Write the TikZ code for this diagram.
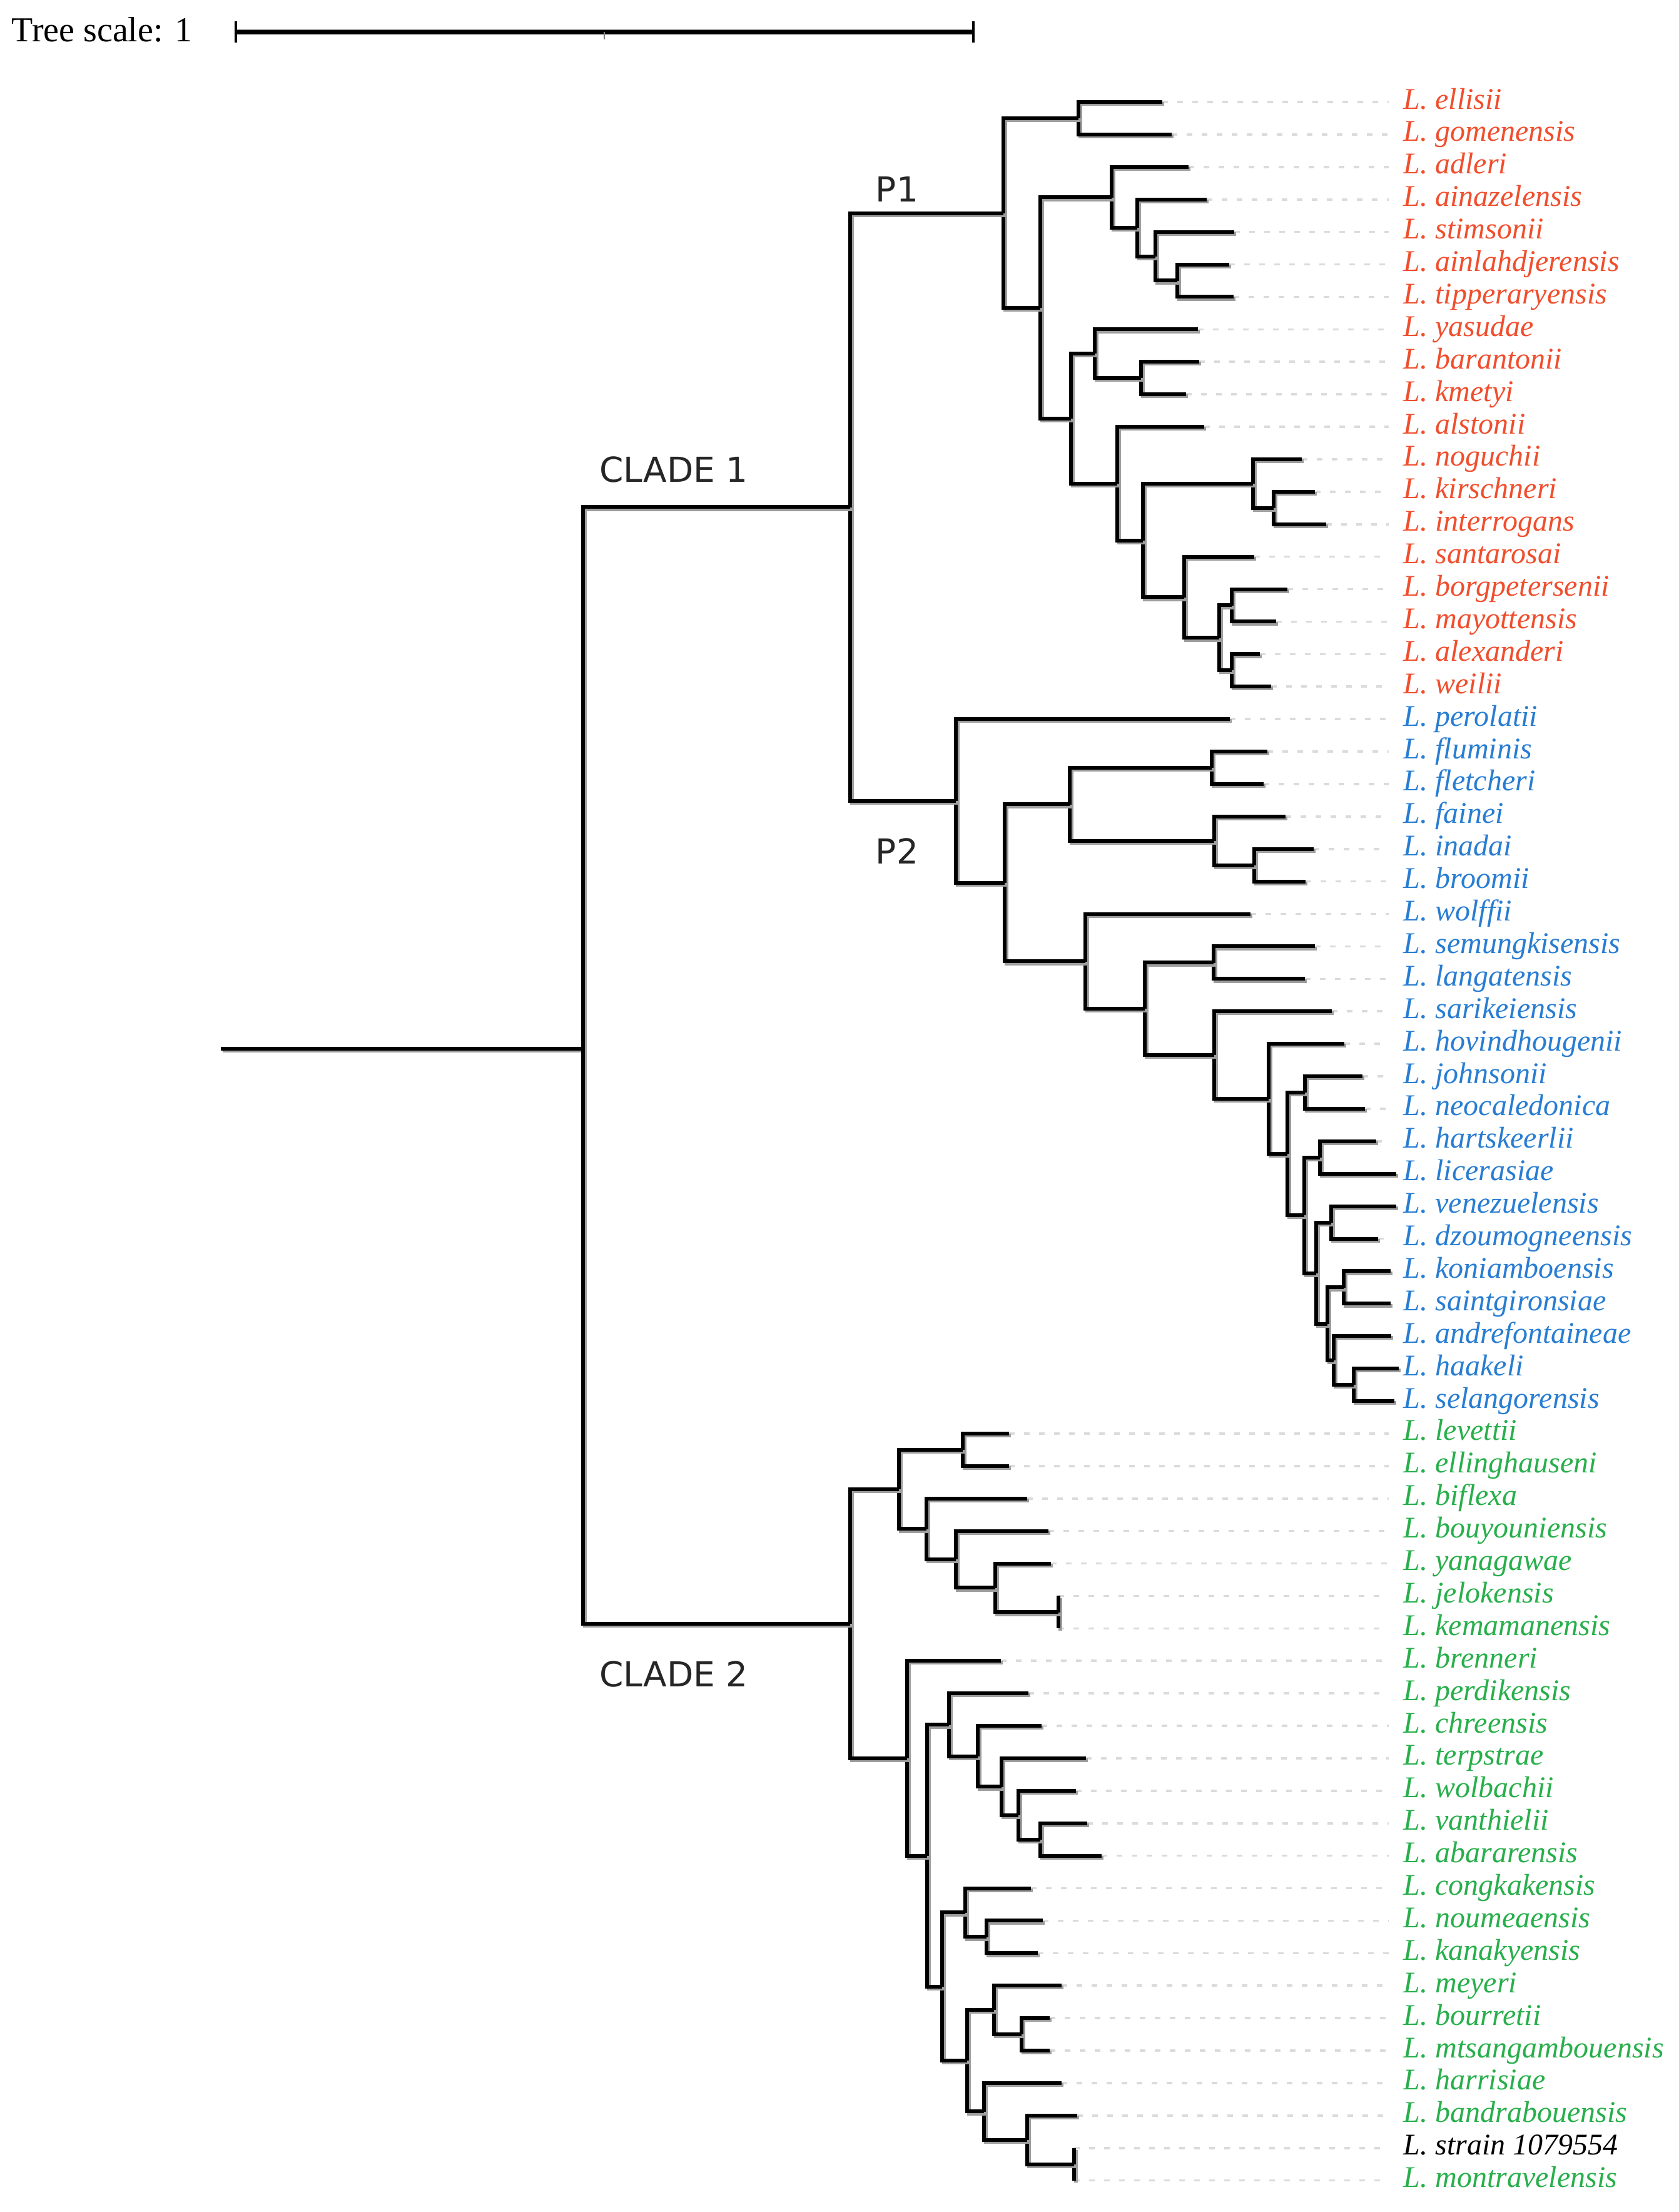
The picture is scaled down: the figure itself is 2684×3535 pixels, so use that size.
\documentclass[tikz,border=0pt]{standalone}
\usepackage{fontspec}
\usetikzlibrary{calc}
\newfontfamily\libserif{Liberation Serif}
\newfontfamily\dejavu{DejaVu Sans}
\definecolor{cred}{RGB}{240,78,45}
\definecolor{cblue}{RGB}{40,125,210}
\definecolor{cgreen}{RGB}{40,175,75}
\tikzset{
  brl/.style={line width=1.5pt, draw=black,
    preaction={draw=black!38, line width=1.5pt, transform canvas={shift={(0.7pt,-0.8pt)}}}},
  leader/.style={draw=black!14, line width=0.9pt, dash pattern=on 2.2pt off 3.8pt},
  lab/.style={anchor=base west, inner sep=0pt, font=\libserif\itshape\fontsize{12}{14}\selectfont},
  cladelab/.style={inner sep=0pt, font=\dejavu\fontsize{13.75}{16}\selectfont, text=black!85},
}
% tip: index, x end, colour, name
\newcommand\mytip[4]{%
  \coordinate (t#1) at (#2,{163+51.9*(#1-1)});
  \coordinate (e#1) at (2220,{163+51.9*(#1-1)});
  \draw[leader] (t#1) -- (e#1);
  \node[lab,text=#3] (n#1) at (2243,{163+51.9*(#1-1)+11}) {L. #4};
}
% internal node: name, x, child1, child2
\newcommand\mynode[4]{%
  \coordinate (tmp) at ($(#3)!0.5!(#4)$);
  \coordinate (#1) at (#2,0 |- tmp);
  \draw[brl] (#1) |- (#3);
  \draw[brl] (#1) |- (#4);
}
\begin{document}
\begin{tikzpicture}[x=0.25pt,y=-0.25pt]
\useasboundingbox (0,0) rectangle (2684,3535);
\fill[white] (0,0) rectangle (2684,3535);

% scale bar
\node[anchor=base west, inner sep=0pt, font=\libserif\fontsize{14}{16}\selectfont] (ts) at (18,66) {Tree scale: 1};
\coordinate (sbl) at (377,51);
\coordinate (sbr) at (1556,51);
\coordinate (sbla) at (377,34);
\coordinate (sblb) at (377,68);
\coordinate (sbra) at (1556,34);
\coordinate (sbrb) at (1556,68);
\coordinate (sbma) at (966,51);
\coordinate (sbmb) at (966,63);
\draw[line width=1.6pt, preaction={draw=black!35, line width=2.4pt}] (sbl) -- (sbr);
\draw[line width=0.9pt] (sbla) -- (sblb);
\draw[line width=0.9pt] (sbra) -- (sbrb);
\draw[line width=0.5pt, black!50] (sbma) -- (sbmb);

% tips
\mytip{1}{1858}{cred}{ellisii}
\mytip{2}{1873}{cred}{gomenensis}
\mytip{3}{1900}{cred}{adleri}
\mytip{4}{1929}{cred}{ainazelensis}
\mytip{5}{1973}{cred}{stimsonii}
\mytip{6}{1965}{cred}{ainlahdjerensis}
\mytip{7}{1972}{cred}{tipperaryensis}
\mytip{8}{1915}{cred}{yasudae}
\mytip{9}{1917}{cred}{barantonii}
\mytip{10}{1896}{cred}{kmetyi}
\mytip{11}{1925}{cred}{alstonii}
\mytip{12}{2081}{cred}{noguchii}
\mytip{13}{2102}{cred}{kirschneri}
\mytip{14}{2120}{cred}{interrogans}
\mytip{15}{2005}{cred}{santarosai}
\mytip{16}{2058}{cred}{borgpetersenii}
\mytip{17}{2040}{cred}{mayottensis}
\mytip{18}{2014}{cred}{alexanderi}
\mytip{19}{2032}{cred}{weilii}
\mytip{20}{1966}{cblue}{perolatii}
\mytip{21}{2026}{cblue}{fluminis}
\mytip{22}{2020}{cblue}{fletcheri}
\mytip{23}{2055}{cblue}{fainei}
\mytip{24}{2100}{cblue}{inadai}
\mytip{25}{2087}{cblue}{broomii}
\mytip{26}{1999}{cblue}{wolffii}
\mytip{27}{2102}{cblue}{semungkisensis}
\mytip{28}{2086}{cblue}{langatensis}
\mytip{29}{2129}{cblue}{sarikeiensis}
\mytip{30}{2149}{cblue}{hovindhougenii}
\mytip{31}{2178}{cblue}{johnsonii}
\mytip{32}{2182}{cblue}{neocaledonica}
\mytip{33}{2200}{cblue}{hartskeerlii}
\mytip{34}{2232}{cblue}{licerasiae}
\mytip{35}{2232}{cblue}{venezuelensis}
\mytip{36}{2203}{cblue}{dzoumogneensis}
\mytip{37}{2223}{cblue}{koniamboensis}
\mytip{38}{2223}{cblue}{saintgironsiae}
\mytip{39}{2224}{cblue}{andrefontaineae}
\mytip{40}{2236}{cblue}{haakeli}
\mytip{41}{2229}{cblue}{selangorensis}
\mytip{42}{1613}{cgreen}{levettii}
\mytip{43}{1613}{cgreen}{ellinghauseni}
\mytip{44}{1642}{cgreen}{biflexa}
\mytip{45}{1676}{cgreen}{bouyouniensis}
\mytip{46}{1680}{cgreen}{yanagawae}
\mytip{47}{1692}{cgreen}{jelokensis}
\mytip{48}{1692}{cgreen}{kemamanensis}
\mytip{49}{1600}{cgreen}{brenneri}
\mytip{50}{1644}{cgreen}{perdikensis}
\mytip{51}{1665}{cgreen}{chreensis}
\mytip{52}{1736}{cgreen}{terpstrae}
\mytip{53}{1720}{cgreen}{wolbachii}
\mytip{54}{1738}{cgreen}{vanthielii}
\mytip{55}{1761}{cgreen}{abararensis}
\mytip{56}{1648}{cgreen}{congkakensis}
\mytip{57}{1667}{cgreen}{noumeaensis}
\mytip{58}{1659}{cgreen}{kanakyensis}
\mytip{59}{1697}{cgreen}{meyeri}
\mytip{60}{1678}{cgreen}{bourretii}
\mytip{61}{1678}{cgreen}{mtsangambouensis}
\mytip{62}{1697}{cgreen}{harrisiae}
\mytip{63}{1722}{cgreen}{bandrabouensis}
\mytip{64}{1717}{black}{strain 1079554}
\mytip{65}{1717}{cgreen}{montravelensis}

% P1 subtree
\mynode{nA}{1724}{t1}{t2}
\mynode{nF}{1882}{t6}{t7}
\mynode{nE}{1847}{t5}{nF}
\mynode{nD}{1818}{t4}{nE}
\mynode{nC}{1777}{t3}{nD}
\mynode{nI}{1824}{t9}{t10}
\mynode{nH}{1750}{t8}{nI}
\mynode{nM}{2036}{t13}{t14}
\mynode{nL}{2003}{t12}{nM}
\mynode{nP}{1969}{t16}{t17}
\mynode{nQ}{1969}{t18}{t19}
\mynode{nO}{1949}{nP}{nQ}
\mynode{nN}{1893}{t15}{nO}
\mynode{nK}{1827}{nL}{nN}
\mynode{nJ}{1786}{t11}{nK}
\mynode{nG}{1712}{nH}{nJ}
\mynode{nB}{1663}{nC}{nG}
\mynode{pone}{1604}{nA}{nB}
% P2 subtree
\mynode{nT}{1937}{t21}{t22}
\mynode{nV}{2005}{t24}{t25}
\mynode{nU}{1941}{t23}{nV}
\mynode{nS}{1710}{nT}{nU}
\mynode{nX}{1940}{t27}{t28}
\mynode{nAC}{2086}{t31}{t32}
\mynode{nAE}{2110}{t33}{t34}
\mynode{nAG}{2128}{t35}{t36}
\mynode{nAI}{2148}{t37}{t38}
\mynode{nAK}{2164}{t40}{t41}
\mynode{nAJ}{2132}{t39}{nAK}
\mynode{nAH}{2122}{nAI}{nAJ}
\mynode{nAF}{2104}{nAG}{nAH}
\mynode{nAD}{2085}{nAE}{nAF}
\mynode{nAB}{2058}{nAC}{nAD}
\mynode{nAA}{2028}{t30}{nAB}
\mynode{nZ}{1941}{t29}{nAA}
\mynode{nY}{1830}{nX}{nZ}
\mynode{nW}{1735}{t26}{nY}
\mynode{nR}{1606}{nS}{nW}
\mynode{ptwo}{1528}{t20}{nR}
\mynode{cone}{1359}{pone}{ptwo}
% Clade 2
\mynode{nCB}{1539}{t42}{t43}
\mynode{nCF}{1692}{t47}{t48}
\mynode{nCE}{1591}{t46}{nCF}
\mynode{nCD}{1528}{t45}{nCE}
\mynode{nCC}{1481}{t44}{nCD}
\mynode{nCA}{1437}{nCB}{nCC}
\mynode{nDG}{1663}{t54}{t55}
\mynode{nDF}{1628}{t53}{nDG}
\mynode{nDE}{1601}{t52}{nDF}
\mynode{nDD}{1563}{t51}{nDE}
\mynode{nDC}{1517}{t50}{nDD}
\mynode{nDJ}{1577}{t57}{t58}
\mynode{nDI}{1543}{t56}{nDJ}
\mynode{nDM}{1633}{t60}{t61}
\mynode{nDL}{1589}{t59}{nDM}
\mynode{nDP}{1717}{t64}{t65}
\mynode{nDO}{1642}{t63}{nDP}
\mynode{nDN}{1573}{t62}{nDO}
\mynode{nDK}{1546}{nDL}{nDN}
\mynode{nDH}{1506}{nDI}{nDK}
\mynode{nDB}{1482}{nDC}{nDH}
\mynode{nDA}{1450}{t49}{nDB}
\mynode{ctwo}{1359}{nCA}{nDA}

% root
\coordinate (root) at (932,1676);
\coordinate (stem) at (353,1676);
\draw[brl] (stem) -- (root);
\draw[brl] (root) |- (cone);
\draw[brl] (root) |- (ctwo);

% clade labels
\node[cladelab] (lc1) at (1077,750) {CLADE 1};
\node[cladelab] (lc2) at (1077,2675) {CLADE 2};
\node[cladelab] (lp1) at (1434,302) {P1};
\node[cladelab] (lp2) at (1434,1360) {P2};
\end{tikzpicture}
\end{document}
